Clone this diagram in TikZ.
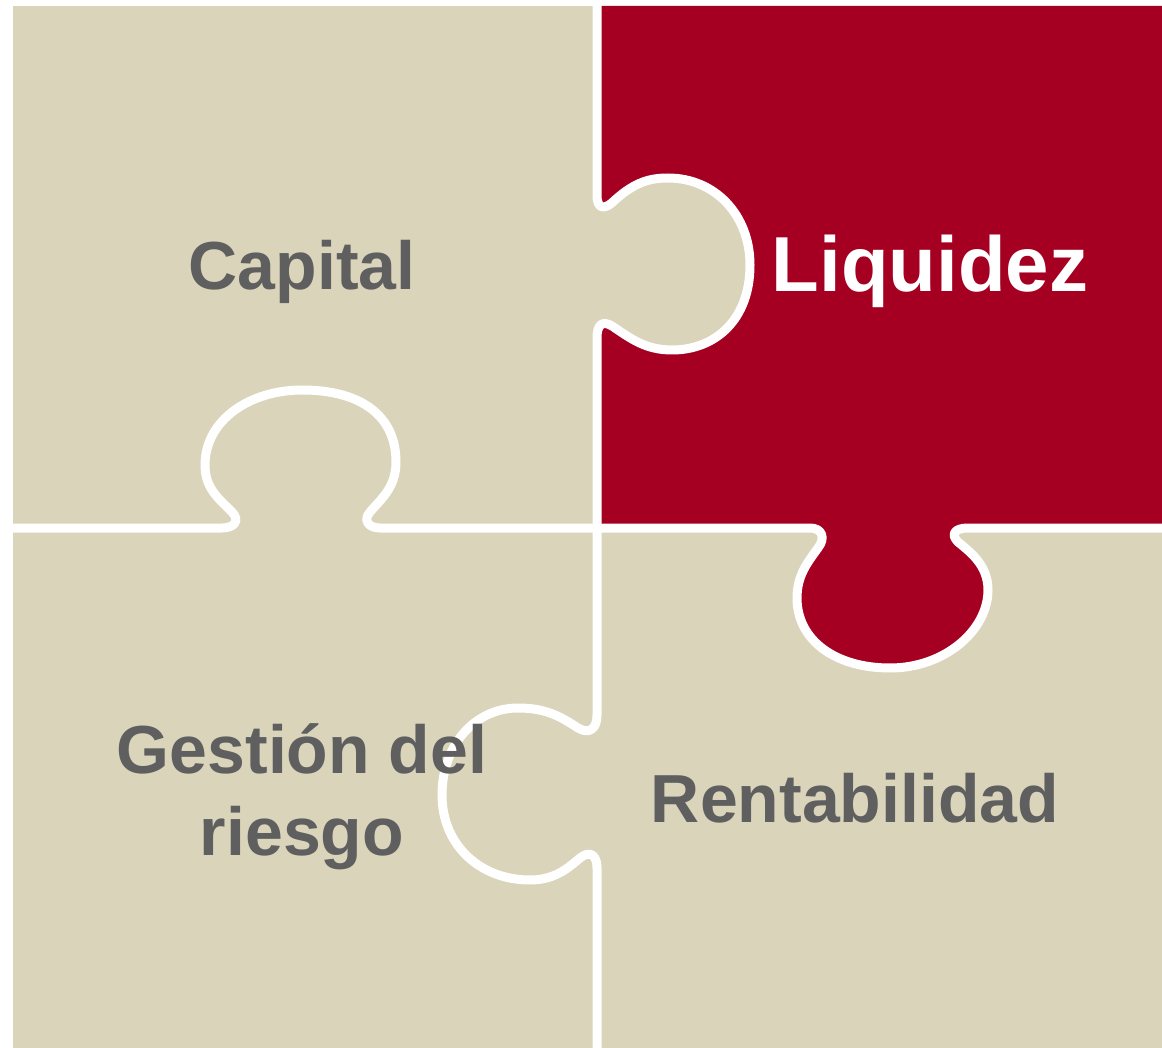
\documentclass[tikz,border=0pt]{standalone}
\usepackage{fontspec}
\setmainfont{Liberation Sans}
\definecolor{sand}{RGB}{218,212,187}
\definecolor{wine}{RGB}{165,0,34}
\definecolor{labelgray}{RGB}{95,95,95}
\tikzset{
  seam/.style={draw=white, line width=9pt, line cap=round, line join=round},
  piecelabel/.style={font=\fontsize{68}{82}\selectfont\bfseries, text=labelgray, inner sep=0pt, align=center}
}
\begin{document}
\begin{tikzpicture}[x=1pt,y=-1pt]
            \useasboundingbox (0,0) rectangle (1162,1048);
            % Background of the four pieces
            \fill[sand] (13,6) rectangle (1162,1048);

            % Red piece (top right), with its tab going down
            \fill[wine]
            (597,6)
            -- (597,195)        % left edge down to the first neck
            .. controls (597,210) and (605,210) .. (615,200)
            .. controls (635,182) and (650,178) .. (668,178)
            .. controls (715,178) and (750,215) .. (750,265)
            .. controls (750,320) and (715,350) .. (672,350)
            .. controls (645,350) and (630,338) .. (612,326)
            .. controls (602,320) and (597,325) .. (597,338)
            -- (597,528)        % down to the centre
            -- (810,528)
            .. controls (822,528) and (826,538) .. (818,548)
            .. controls (808,562) and (797,575) .. (797,598)
            .. controls (797,640) and (835,668) .. (890,668)
            .. controls (945,668) and (988,630) .. (988,590)
            .. controls (988,565) and (970,552) .. (958,542)
            .. controls (950,534) and (955,528) .. (968,528)
            -- (1162,528)
            -- (1162,6)
            -- cycle;

            % Seams between the pieces
            \draw[seam] (597,0) -- (597,195)
            .. controls (597,210) and (605,210) .. (615,200)
            .. controls (635,182) and (650,178) .. (668,178)
            .. controls (715,178) and (750,215) .. (750,265)
            .. controls (750,320) and (715,350) .. (672,350)
            .. controls (645,350) and (630,338) .. (612,326)
            .. controls (602,320) and (597,325) .. (597,338)
            -- (597,528);
            \draw[seam] (597,528) -- (810,528)
            .. controls (822,528) and (826,538) .. (818,548)
            .. controls (808,562) and (797,575) .. (797,598)
            .. controls (797,640) and (835,668) .. (890,668)
            .. controls (945,668) and (988,630) .. (988,590)
            .. controls (988,565) and (970,552) .. (958,542)
            .. controls (950,534) and (955,528) .. (968,528)
            -- (1162,528);
            \draw[seam] (13,528) -- (222,528)
            .. controls (235,528) and (240,520) .. (232,512)
            .. controls (218,498) and (205,488) .. (205,465)
            .. controls (205,420) and (250,390) .. (302,390)
            .. controls (360,390) and (396,415) .. (396,462)
            .. controls (396,488) and (380,500) .. (370,512)
            .. controls (363,520) and (368,528) .. (380,528)
            -- (597,528);
            \draw[seam] (597,528) -- (597,715)
            .. controls (597,728) and (590,735) .. (578,728)
            .. controls (560,716) and (545,708) .. (518,708)
            .. controls (475,708) and (442,745) .. (442,795)
            .. controls (442,845) and (480,880) .. (530,880)
            .. controls (555,880) and (568,868) .. (580,858)
            .. controls (590,850) and (597,855) .. (597,868)
            -- (597,1048);

            % Labels
            \node[piecelabel, anchor=base] (capital) at (302,290) {Capital};
            \node[piecelabel, anchor=base, text=white, font=\fontsize{78}{90}\selectfont\bfseries] (liquidez) at (930,292) {Liquidez};
            \node[piecelabel, anchor=base] (gestion) at (302,855) {Gestión del\\riesgo};
            \node[piecelabel, anchor=base] (rentabilidad) at (855,822) {Rentabilidad};
        \end{tikzpicture}
\end{document}
